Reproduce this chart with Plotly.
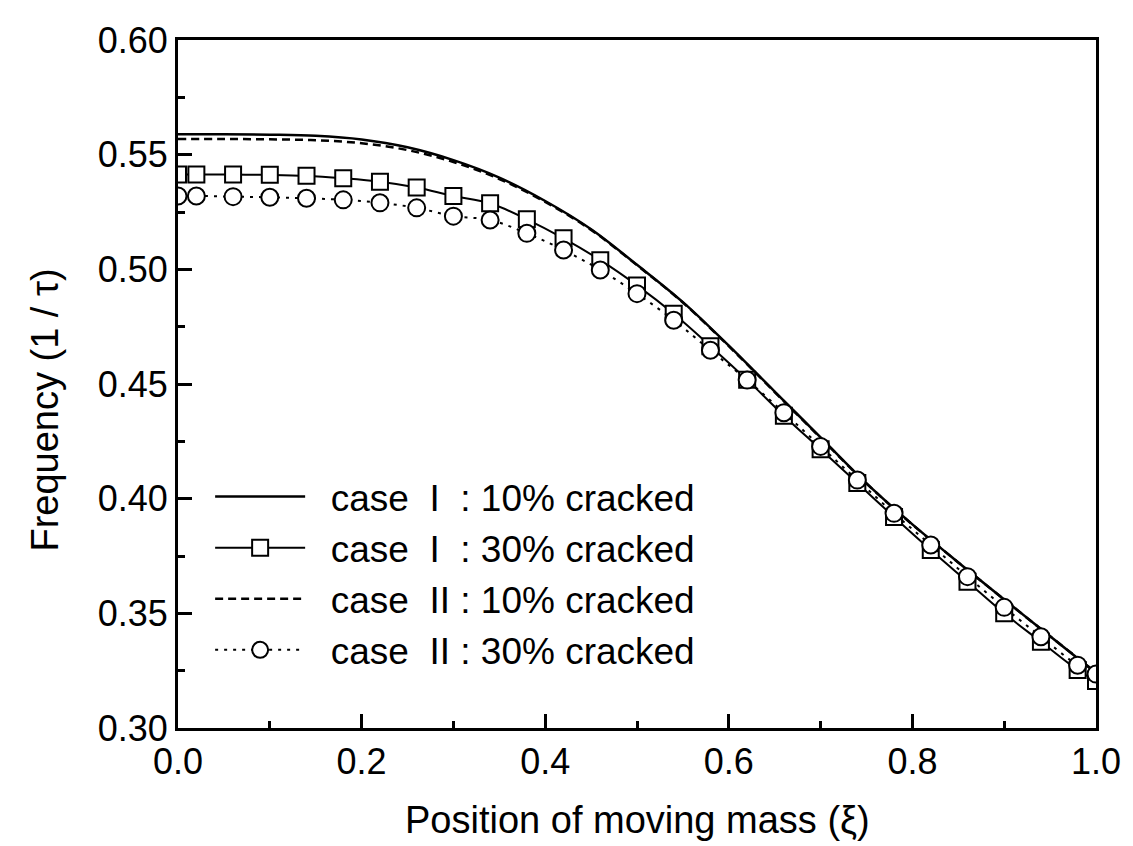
import plotly.graph_objects as go

# ---- data ----
x_line = [0.00, 0.05, 0.10, 0.15, 0.20, 0.25, 0.30, 0.35, 0.40, 0.45, 0.50,
          0.55, 0.60, 0.65, 0.70, 0.75, 0.80, 0.85, 0.90, 0.95, 1.00]
case1_10 = [0.5589, 0.5589, 0.5587, 0.5582, 0.5566, 0.5532, 0.5476, 0.5400, 0.5298, 0.5175, 0.5020,
            0.4857, 0.4667, 0.4467, 0.4267, 0.4067, 0.3888, 0.3722, 0.3560, 0.3400, 0.3240]
case2_10 = [0.5568, 0.5568, 0.5567, 0.5563, 0.5550, 0.5520, 0.5468, 0.5394, 0.5294, 0.5172, 0.5018,
            0.4855, 0.4665, 0.4465, 0.4265, 0.4066, 0.3887, 0.3722, 0.3560, 0.3400, 0.3242]

x_mark = [0.00, 0.02, 0.06, 0.10, 0.14, 0.18, 0.22, 0.26, 0.30, 0.34, 0.38, 0.42, 0.46, 0.50,
          0.54, 0.58, 0.62, 0.66, 0.70, 0.74, 0.78, 0.82, 0.86, 0.90, 0.94, 0.98, 1.00]
case1_30 = [0.5413, 0.5414, 0.5413, 0.5412, 0.5408, 0.5397, 0.5382, 0.5357, 0.5320, 0.5288,
            0.5218, 0.5135, 0.5040, 0.4930, 0.4806, 0.4665, 0.4518, 0.4362, 0.4215, 0.4068,
            0.3920, 0.3776, 0.3638, 0.3500, 0.3376, 0.3253, 0.3205]
case2_30 = [0.5320, 0.5320, 0.5317, 0.5314, 0.5310, 0.5303, 0.5290, 0.5268, 0.5232, 0.5215,
            0.5157, 0.5084, 0.4997, 0.4894, 0.4778, 0.4647, 0.4517, 0.4375, 0.4228, 0.4081,
            0.3936, 0.3798, 0.3660, 0.3526, 0.3398, 0.3274, 0.3235]

labels = ["  case  I  : 10% cracked", "  case  I  : 30% cracked",
          "  case  II : 10% cracked", "  case  II : 30% cracked"]

x_ticks = [0.0, 0.2, 0.4, 0.6, 0.8, 1.0]
x_ticktext = ["0.0", "0.2", "0.4", "0.6", "0.8", "1.0"]
y_ticks = [0.30, 0.35, 0.40, 0.45, 0.50, 0.55, 0.60]
y_ticktext = ["0.30", "0.35", "0.40", "0.45", "0.50", "0.55", "0.60"]

FONT = "Arial, Liberation Sans, sans-serif"

fig = go.Figure()
fig.add_trace(go.Scatter(x=x_line, y=case1_10, mode="lines", name=labels[0],
                         line=dict(color="black", width=2.5, shape="spline")))
fig.add_trace(go.Scatter(x=x_mark, y=case1_30, mode="lines+markers", name=labels[1],
                         line=dict(color="black", width=2, shape="spline"),
                         marker=dict(symbol="square", size=16, color="white",
                                     line=dict(color="black", width=2))))
fig.add_trace(go.Scatter(x=x_line, y=case2_10, mode="lines", name=labels[2],
                         line=dict(color="black", width=2.5, dash="8px,5px", shape="spline")))
fig.add_trace(go.Scatter(x=x_mark, y=case2_30, mode="lines+markers", name=labels[3],
                         line=dict(color="black", width=2, dash="3px,6px", shape="spline"),
                         marker=dict(symbol="circle", size=17, color="white",
                                     line=dict(color="black", width=2))))

axis_common = dict(showline=True, linewidth=3, linecolor="black", mirror=True,
                   ticks="inside", ticklen=14, tickwidth=2.5, tickcolor="black",
                   showgrid=False, zeroline=False,
                   tickfont=dict(family=FONT, size=36, color="black"))

fig.update_xaxes(range=[0, 1], tickvals=x_ticks, ticktext=x_ticktext,
                 minor=dict(dtick=0.1, ticks="inside", ticklen=7, tickwidth=2.5, tickcolor="black"),
                 **axis_common)
fig.update_yaxes(range=[0.30, 0.60], tickvals=y_ticks, ticktext=y_ticktext,
                 minor=dict(dtick=0.025, ticks="inside", ticklen=7, tickwidth=2.5, tickcolor="black"),
                 **axis_common)

fig.update_layout(
    width=1133, height=846,
    margin=dict(l=178, r=34, t=40, b=118),
    paper_bgcolor="white", plot_bgcolor="white",
    font=dict(family=FONT, color="black"),
    showlegend=True,
    legend=dict(x=0.035, y=0.3808, xanchor="left", yanchor="top",
                bgcolor="rgba(0,0,0,0)", borderwidth=0,
                font=dict(family=FONT, size=37, color="black"),
                itemwidth=90, tracegroupgap=0),
    annotations=[
        dict(text="Position of moving mass (ξ)", xref="paper", yref="paper",
             x=0.5, y=-0.1337, xanchor="center", yanchor="middle", showarrow=False,
             font=dict(family=FONT, size=38, color="black")),
        dict(text="Frequency (1 / τ)", xref="paper", yref="paper",
             x=-0.1444, y=0.462, xanchor="center", yanchor="middle", showarrow=False,
             textangle=-90, font=dict(family=FONT, size=38, color="black")),
    ],
)

fig.write_html("out.html")
